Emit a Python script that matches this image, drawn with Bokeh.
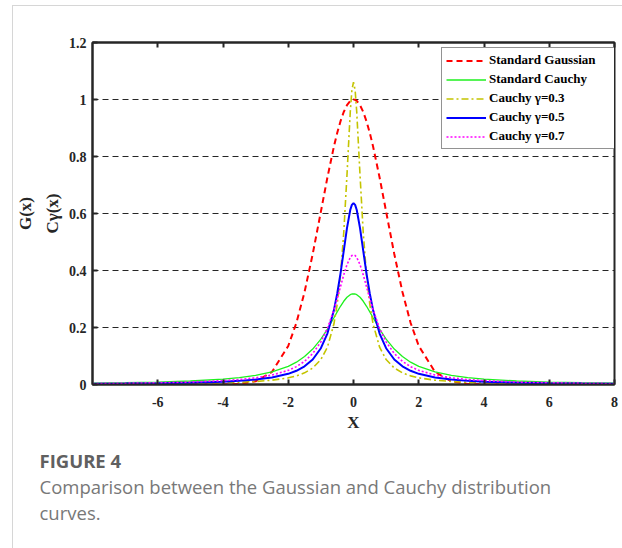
from bokeh.plotting import figure
from bokeh.models import (Range1d, LinearAxis, FixedTicker, NumeralTickFormatter,
                          Legend, LegendItem, Title)
from bokeh.embed import file_html
from bokeh.resources import INLINE

# Sample abscissae
x = [-8, -7, -6, -5, -4, -3.5, -3, -2.5, -2, -1.75, -1.5, -1.25, -1, -0.8, -0.6,
     -0.5, -0.4, -0.3, -0.2, -0.1, -0.05, 0, 0.05, 0.1, 0.2, 0.3, 0.4, 0.5, 0.6,
     0.8, 1, 1.25, 1.5, 1.75, 2, 2.5, 3, 3.5, 4, 5, 6, 7, 8]

gaussian = [0.0, 0.0, 0.0, 0.0, 0.00034, 0.00219, 0.01111, 0.04394, 0.13534, 0.21627,
            0.32465, 0.45783, 0.60653, 0.72615, 0.83527, 0.88250, 0.92312, 0.95600,
            0.98020, 0.99501, 0.99875, 1.0, 0.99875, 0.99501, 0.98020, 0.95600,
            0.92312, 0.88250, 0.83527, 0.72615, 0.60653, 0.45783, 0.32465, 0.21627,
            0.13534, 0.04394, 0.01111, 0.00219, 0.00034, 0.0, 0.0, 0.0, 0.0]

cauchy_std = [0.00490, 0.00637, 0.00860, 0.01224, 0.01872, 0.02402, 0.03183, 0.04390,
              0.06366, 0.07835, 0.09794, 0.12422, 0.15915, 0.19409, 0.23405, 0.25465,
              0.27441, 0.29203, 0.30607, 0.31516, 0.31752, 0.31831, 0.31752, 0.31516,
              0.30607, 0.29203, 0.27441, 0.25465, 0.23405, 0.19409, 0.15915, 0.12422,
              0.09794, 0.07835, 0.06366, 0.04390, 0.03183, 0.02402, 0.01872, 0.01224,
              0.00860, 0.00637, 0.00490]

cauchy_03 = [0.00149, 0.00195, 0.00265, 0.00381, 0.00593, 0.00774, 0.01051, 0.01506,
             0.02335, 0.03029, 0.04081, 0.05779, 0.08761, 0.13081, 0.21221, 0.28086,
             0.38197, 0.53052, 0.73456, 0.95493, 1.03236, 1.06103, 1.03236, 0.95493,
             0.73456, 0.53052, 0.38197, 0.28086, 0.21221, 0.13081, 0.08761, 0.05779,
             0.04081, 0.03029, 0.02335, 0.01506, 0.01051, 0.00774, 0.00593, 0.00381,
             0.00265, 0.00195, 0.00149]

cauchy_05 = [0.00248, 0.00323, 0.00439, 0.00630, 0.00979, 0.01273, 0.01721, 0.02449,
             0.03745, 0.04805, 0.06366, 0.08781, 0.12732, 0.17883, 0.26091, 0.31831,
             0.38818, 0.46810, 0.54881, 0.61213, 0.63032, 0.63662, 0.63032, 0.61213,
             0.54881, 0.46810, 0.38818, 0.31831, 0.26091, 0.17883, 0.12732, 0.08781,
             0.06366, 0.04805, 0.03745, 0.02449, 0.01721, 0.01273, 0.00979, 0.00630,
             0.00439, 0.00323, 0.00248]

cauchy_07 = [0.00346, 0.00450, 0.00611, 0.00874, 0.01351, 0.01749, 0.02348, 0.03306,
             0.04962, 0.06272, 0.08132, 0.10856, 0.14954, 0.19718, 0.26214, 0.30110,
             0.34280, 0.38417, 0.42041, 0.44563, 0.45242, 0.45473, 0.45242, 0.44563,
             0.42041, 0.38417, 0.34280, 0.30110, 0.26214, 0.19718, 0.14954, 0.10856,
             0.08132, 0.06272, 0.04962, 0.03306, 0.02348, 0.01749, 0.01351, 0.00874,
             0.00611, 0.00450, 0.00346]

series_names = ["Standard Gaussian", "Standard Cauchy", "Cauchy \u03b3=0.3",
                "Cauchy \u03b3=0.5", "Cauchy \u03b3=0.7"]
x_ticks = [-6, -4, -2, 0, 2, 4, 6, 8]
x_tick_labels = ["-6", "-4", "-2", "0", "2", "4", "6", "8"]
y_ticks = [0, 0.2, 0.4, 0.6, 0.8, 1.0, 1.2]
y_tick_labels = ["0", "0.2", "0.4", "0.6", "0.8", "1", "1.2"]

SERIF = "Liberation Serif"
INK = "#262626"

p = figure(width=622, height=548, x_range=Range1d(-8, 8), y_range=Range1d(0, 1.2),
           output_backend="svg", toolbar_location=None,
           min_border_left=92, min_border_right=8, min_border_top=42,
           min_border_bottom=164)
p.background_fill_color = "white"
p.border_fill_color = "white"
p.outline_line_color = INK
p.outline_line_width = 2

# light card edge along the top and left of the page
p.stylesheets = [
    ":host::before { content: ''; position: absolute; left: 12px; top: 5px; "
    "width: 640px; height: 600px; border-left: 1.5px solid #d6d6d6; "
    "border-top: 1.5px solid #d6d6d6; pointer-events: none; z-index: 50; }"
]

xa = p.xaxis[0]
ya = p.yaxis[0]
xa.ticker = FixedTicker(ticks=x_ticks)
xa.major_label_overrides = dict(zip(x_ticks, x_tick_labels))
xa.axis_label = "X"
ya.ticker = FixedTicker(ticks=y_ticks)
ya.formatter = NumeralTickFormatter(format="0.[0]")
ya.major_label_overrides = dict(zip(y_ticks, y_tick_labels))
for ax in (xa, ya):
    ax.axis_line_color = INK
    ax.axis_line_width = 2
    ax.major_tick_in = 5
    ax.major_tick_out = 0
    ax.major_tick_line_color = INK
    ax.major_tick_line_width = 2
    ax.minor_tick_line_color = None
    ax.major_label_text_font = SERIF
    ax.major_label_text_font_style = "bold"
    ax.major_label_text_font_size = "14px"
    ax.major_label_text_color = INK
    ax.axis_label_text_font = SERIF
    ax.axis_label_text_font_style = "bold"
    ax.axis_label_text_font_size = "17px"
    ax.axis_label_text_color = INK
xa.major_label_standoff = 12
xa.axis_label_standoff = 3
ya.major_label_standoff = 6

# top axis carries tick marks only
top = LinearAxis(ticker=FixedTicker(ticks=x_ticks), major_label_text_color=None,
                 major_tick_in=5, major_tick_out=0, minor_tick_line_color=None,
                 axis_line_color=INK, axis_line_width=2, major_tick_line_color=INK,
                 major_tick_line_width=2, major_label_standoff=0)
p.add_layout(top, "above")

p.xgrid.visible = False
p.ygrid.ticker = FixedTicker(ticks=y_ticks)
p.ygrid.grid_line_color = INK
p.ygrid.grid_line_width = 1
p.ygrid.grid_line_dash = "6 4"

styles = [
    dict(line_color="#ff0000", line_width=2, line_dash="6 4"),
    dict(line_color="#1ef01e", line_width=1.3),
    dict(line_color="#c4c400", line_width=1.6, line_dash="7 3 2 3"),
    dict(line_color="#0000ff", line_width=2),
    dict(line_color="#ff00ff", line_width=1.6, line_dash="2 2"),
]
ys = [gaussian, cauchy_std, cauchy_03, cauchy_05, cauchy_07]
items = []
for name, yv, st in zip(series_names, ys, styles):
    r = p.line(x, yv, **st)
    items.append(LegendItem(label=name, renderers=[r]))

legend = Legend(items=items, location=(349, 235), border_line_color=INK,
                border_line_width=1, background_fill_color="white",
                background_fill_alpha=1, label_text_font=SERIF,
                label_text_font_style="bold", label_text_font_size="13px",
                label_text_color="black", glyph_width=40, glyph_height=15,
                label_height=15, label_width=122, label_standoff=3, spacing=3,
                padding=4, margin=0)
p.add_layout(legend)

# two-line y axis title, inner line first
for text, gap in (("C\u03b3(x)", 8), ("G(x)", 4)):
    p.add_layout(Title(text=text, align="center", standoff=gap, text_font=SERIF,
                       text_font_style="bold", text_font_size="17px",
                       text_color=INK), "left")

# figure caption below the chart (standoffs tuned for ~26px line pitch)
caption = [("FIGURE 4", "bold", "#606060", 22),
           ("Comparison between the Gaussian and Cauchy distribution", "normal",
            "#787878", -24.4),
           ("curves.", "normal", "#787878", 22)]
for text, style, color, gap in caption:
    p.add_layout(Title(text=text, align="left", offset=-53, standoff=gap,
                       text_font="Open Sans", text_font_style=style,
                       text_font_size="18.5px", text_color=color), "below")

open("out.html", "w").write(file_html(p, INLINE))
